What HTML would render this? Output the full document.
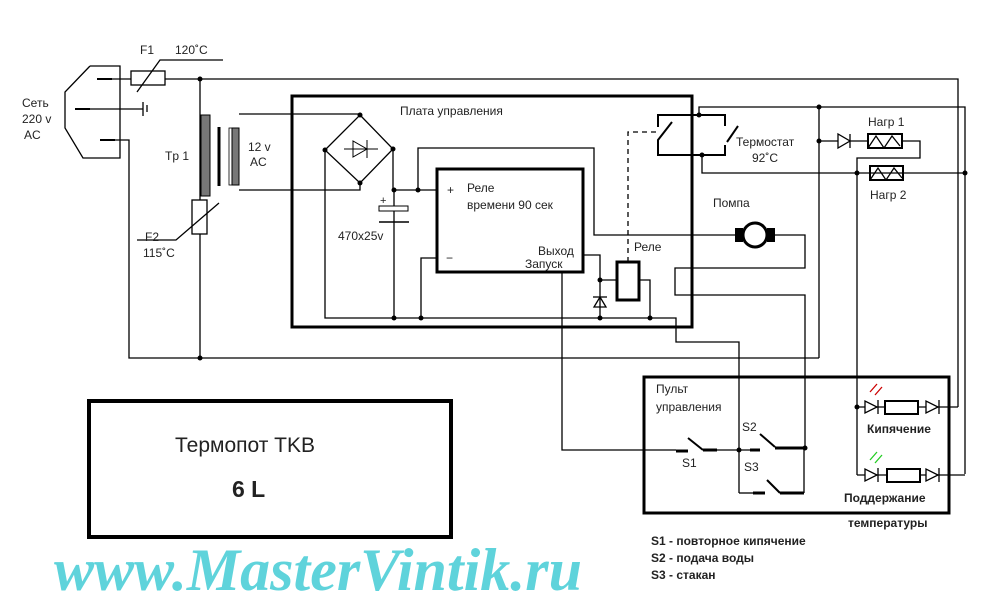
<!DOCTYPE html><html><head><meta charset="utf-8"><style>body{margin:0;background:#fff}svg{display:block}text{font-family:"Liberation Sans",sans-serif;fill:#222}</style></head><body>
<svg width="1000" height="603" viewBox="0 0 1000 603" xmlns="http://www.w3.org/2000/svg">
<g fill="none" stroke="#000" stroke-width="1.3">
<!-- plug -->
<polyline points="90,66 120,66 120,158 83,158 65,128 65,92 90,66"/>
<line x1="97" y1="79" x2="112" y2="79" stroke-width="2"/><line x1="75" y1="109" x2="90" y2="109" stroke-width="2"/><line x1="100" y1="140" x2="115" y2="140" stroke-width="2"/>
<polyline points="112,79 958,79 958,407"/>
<line x1="90" y1="109" x2="143" y2="109"/><line x1="143" y1="102" x2="143" y2="116"/><line x1="147" y1="105" x2="147" y2="112"/>
<polyline points="115,140 129,140 129,358 819,358"/>
<rect x="131" y="71" width="34" height="14" fill="#fff"/>
<polyline points="137,92 160,60 223,60"/>
<line x1="200" y1="79" x2="200" y2="358"/>
<rect x="192" y="200" width="15" height="34" fill="#fff"/>
<polyline points="137,240 176,240 219,203"/>
<line x1="219" y1="127" x2="219" y2="186" stroke-width="3"/>
<!-- secondary -->
<polyline points="239,114 360,114"/><polyline points="239,190 360,190 360,183"/>
<!-- board -->
<rect x="292" y="96" width="400" height="231" stroke-width="3"/>
<polygon points="360,115 393,149 360,183 325,150"/>
<polyline points="325,150 325,318 676,318 676,342 739,342 739,493"/>
<polyline points="393,149 393,190 437,190"/>
<polyline points="418,190 418,148 594,148 594,235 743,235"/>
<line x1="394" y1="190" x2="394" y2="318"/>
<polyline points="437,258 421,258 421,318"/>
<rect x="437" y="169" width="146" height="103" stroke-width="3"/>
<polyline points="583,255 600,255 600,318"/>
<polyline points="600,280 617,280"/>
<rect x="617" y="262" width="22" height="38" stroke-width="3"/>
<polyline points="639,280 650,280 650,318"/>
<polygon points="594,307 606,307 600,297"/><line x1="593" y1="297" x2="607" y2="297"/>
<polyline points="562,272 562,450 676,450"/>
<polyline points="628,262 628,132 657,132" stroke-dasharray="5,4"/>
<!-- relay contacts/thermostat -->
<polyline points="658,127 658,115 725,115 725,126" stroke-width="2"/>
<polyline points="672,122 658,140 658,155 725,155 725,145" stroke-width="2"/>
<polyline points="738,126 727,142" stroke-width="2"/>
<polyline points="699,115 699,107 965,107 965,474"/>
<polyline points="702,155 702,173 965,173"/>
<polyline points="819,107 819,358"/>
<line x1="819" y1="141" x2="868" y2="141"/>
<polygon points="838,134 838,148 850,141" fill="#fff"/><line x1="850" y1="134" x2="850" y2="148"/>
<rect x="868" y="134" width="34" height="14" stroke-width="2"/>
<polyline points="868,148 876,136 884,148 892,136 900,146"/>
<polyline points="902,141 920,141 920,158 857,158 857,475"/>
<rect x="870" y="166" width="33" height="14" stroke-width="2"/>
<polyline points="870,180 878,168 886,180 894,168 902,178"/>
<!-- motor -->
<polyline points="767,235 805,235 805,268 675,268 675,295 805,295 805,448"/>
<!-- panel -->
<rect x="644" y="377" width="305" height="136" stroke-width="3"/>
<line x1="676" y1="451" x2="688" y2="451" stroke-width="3"/><line x1="688" y1="438" x2="703" y2="450" stroke-width="2"/><line x1="703" y1="450" x2="717" y2="450" stroke-width="3"/>
<line x1="717" y1="450" x2="750" y2="450"/>
<line x1="750" y1="450" x2="760" y2="450" stroke-width="3"/><line x1="760" y1="434" x2="775" y2="447" stroke-width="2"/><line x1="775" y1="448" x2="805" y2="448" stroke-width="3"/>
<line x1="739" y1="493" x2="753" y2="493"/><line x1="753" y1="493" x2="765" y2="493" stroke-width="3"/><line x1="767" y1="480" x2="780" y2="493" stroke-width="2"/><line x1="780" y1="493" x2="804" y2="493" stroke-width="3"/><line x1="804" y1="493" x2="804" y2="448"/>
<line x1="857" y1="407" x2="958" y2="407"/><line x1="857" y1="475" x2="965" y2="475"/>
<polygon points="865,401 865,413 877,407" fill="#fff"/><line x1="878" y1="400" x2="878" y2="414"/>
<rect x="885" y="401" width="33" height="13" fill="#fff" stroke-width="2"/>
<polygon points="926,401 926,413 938,407" fill="#fff"/><line x1="939" y1="400" x2="939" y2="414"/>
<polygon points="865,469 865,481 877,475" fill="#fff"/><line x1="878" y1="468" x2="878" y2="482"/>
<rect x="887" y="469" width="33" height="13" fill="#fff" stroke-width="2"/>
<polygon points="926,469 926,481 938,475" fill="#fff"/><line x1="939" y1="468" x2="939" y2="482"/>
<g stroke="#c00"><line x1="870" y1="392" x2="877" y2="384"/><line x1="875" y1="395" x2="882" y2="387"/></g>
<g stroke="#2c2"><line x1="870" y1="460" x2="877" y2="452"/><line x1="875" y1="463" x2="882" y2="455"/></g>
<rect x="89" y="401" width="362" height="136" stroke-width="4"/>
</g>
<!-- transformer -->
<rect x="201" y="115" width="9" height="81" fill="#777" stroke="#000"/>
<rect x="229" y="128" width="3" height="57" fill="#fff" stroke="#000" stroke-width=".8"/>
<rect x="232" y="128" width="7" height="57" fill="#777" stroke="#000"/>
<!-- capacitor -->
<rect x="379" y="206" width="29" height="5" fill="#fff" stroke="#000"/><line x1="379" y1="222" x2="409" y2="222" stroke="#000" stroke-width="1.5"/>
<!-- bridge diode -->
<polygon points="353,141 353,157 367,149" fill="#fff" stroke="#000"/><line x1="344" y1="149" x2="378" y2="149" stroke="#000"/><line x1="367" y1="140" x2="367" y2="158" stroke="#000"/>
<!-- motor body -->
<circle cx="755" cy="235" r="12" fill="#fff" stroke="#000" stroke-width="3"/>
<rect x="735" y="228" width="8" height="14" fill="#000"/><rect x="767" y="228" width="8" height="14" fill="#000"/>
<g fill="#000">
<circle cx="200" cy="79" r="2.5"/><circle cx="200" cy="358" r="2.5"/><circle cx="360" cy="115" r="2.5"/><circle cx="325" cy="150" r="2.5"/><circle cx="393" cy="149" r="2.5"/><circle cx="360" cy="183" r="2.5"/>
<circle cx="394" cy="190" r="2.5"/><circle cx="418" cy="190" r="2.5"/><circle cx="394" cy="318" r="2.5"/><circle cx="421" cy="318" r="2.5"/><circle cx="600" cy="318" r="2.5"/><circle cx="650" cy="318" r="2.5"/><circle cx="600" cy="280" r="2.5"/>
<circle cx="699" cy="115" r="2.5"/><circle cx="702" cy="155" r="2.5"/><circle cx="819" cy="107" r="2.5"/><circle cx="819" cy="141" r="2.5"/><circle cx="857" cy="173" r="2.5"/><circle cx="965" cy="173" r="2.5"/>
<circle cx="739" cy="450" r="2.5"/><circle cx="805" cy="448" r="2.5"/><circle cx="857" cy="407" r="2.5"/>
</g>
<g font-size="12">
<text x="140" y="54">F1</text><text x="175" y="54">120˚C</text>
<text x="22" y="107">Сеть</text><text x="22" y="123">220 v</text><text x="24" y="139">AC</text>
<text x="165" y="160">Tp 1</text><text x="248" y="151">12 v</text><text x="250" y="166">AC</text>
<text x="145" y="241">F2</text><text x="143" y="257">115˚C</text>
<text x="400" y="115">Плата управления</text>
<text x="447" y="194">+</text><text x="467" y="192">Реле</text><text x="467" y="209">времени 90 сек</text>
<text x="338" y="240">470x25v</text><text x="380" y="204" font-size="11">+</text>
<text x="446" y="262">−</text><text x="538" y="255">Выход</text><text x="525" y="268">Запуск</text>
<text x="634" y="251">Реле</text>
<text x="736" y="146">Термостат</text><text x="752" y="162">92˚C</text>
<text x="868" y="126">Нагр 1</text><text x="870" y="199">Нагр 2</text>
<text x="713" y="207">Помпа</text>
<text x="656" y="393">Пульт</text><text x="656" y="411">управления</text>
<text x="742" y="431">S2</text><text x="682" y="467">S1</text><text x="744" y="471">S3</text>
<g font-weight="bold"><text x="867" y="433">Кипячение</text><text x="844" y="502">Поддержание</text><text x="848" y="527">температуры</text>
<text x="651" y="545">S1 - повторное кипячение</text><text x="651" y="562">S2 - подача воды</text><text x="651" y="579">S3 - стакан</text></g>
</g>
<text x="175" y="452" font-size="21" fill="#111">Термопот  TKB</text>
<text x="232" y="497" font-size="23" font-weight="bold" fill="#111">6 L</text>
<text x="54" y="590" font-family="Liberation Serif" font-style="italic" font-weight="bold" font-size="60" style="font-family:'Liberation Serif',serif;fill:#5fd3db">www.MasterVintik.ru</text>
</svg></body></html>
